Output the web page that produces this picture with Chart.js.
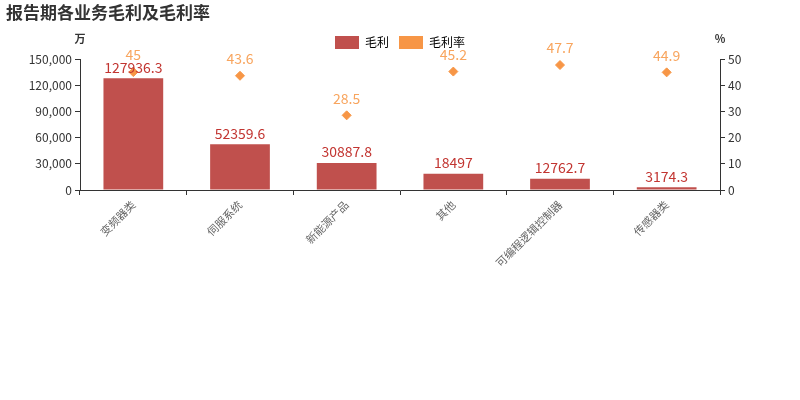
<!DOCTYPE html>
<html><head><meta charset="utf-8">
<script src="https://cdn.jsdelivr.net/npm/chart.js@4"></script>
<style>body{margin:0;background:#fff}#wrap{width:800px;height:400px}</style>
</head><body><div id="wrap"><canvas id="c"></canvas></div>
<script>
const categories = ['变频器类','伺服系统','新能源产品','其他','可编程逻辑控制器','传感器类'];
const grossProfit = [127936.3, 52359.6, 30887.8, 18497, 12762.7, 3174.3];
const grossMargin = [45, 43.6, 28.5, 45.2, 47.7, 44.9];
const leftTicks = [0, 30000, 60000, 90000, 120000, 150000];
const rightTicks = [0, 10, 20, 30, 40, 50];

const FONT = "'Noto Sans CJK SC', 'DejaVu Sans', sans-serif";
Chart.defaults.font.family = FONT;
Chart.defaults.color = '#333';

const extras = {
  id: 'extras',
  afterDatasetsDraw(chart) {
    const ctx = chart.ctx;
    ctx.save();
    ctx.fillStyle = '#333';
    ctx.font = 'bold 17px ' + FONT;
    ctx.textBaseline = 'middle';
    ctx.textAlign = 'left';
    ctx.fillText('报告期各业务毛利及毛利率', 6, 13);
    ctx.font = 'bold 11px ' + FONT;
    ctx.textAlign = 'center';
    ctx.fillText('万', chart.chartArea.left, 39);
    ctx.fillText('%', chart.chartArea.right, 39);
    ctx.font = '14px ' + FONT;
    ctx.textBaseline = 'bottom';
    chart.getDatasetMeta(0).data.forEach((el, i) => {
      ctx.fillStyle = '#c23531';
      ctx.fillText(String(grossProfit[i]), el.x, el.y - 4);
    });
    chart.getDatasetMeta(1).data.forEach((el, i) => {
      ctx.fillStyle = '#f8a55e';
      ctx.fillText(String(grossMargin[i]), el.x, el.y - 10);
    });
    ctx.restore();
  }
};

new Chart(document.getElementById('c'), {
  data: {
    labels: categories,
    datasets: [
      { type: 'bar', label: '毛利', data: grossProfit, yAxisID: 'y', backgroundColor: '#c0504d', barPercentage: 0.56, categoryPercentage: 1, order: 2 },
      { type: 'line', label: '毛利率', data: grossMargin, yAxisID: 'y1', showLine: false, pointStyle: 'rectRot', pointRadius: 4.5, backgroundColor: '#f79646', borderColor: '#f79646', order: 1 }
    ]
  },
  options: {
    responsive: true,
    maintainAspectRatio: false,
    animation: false,
    layout: { padding: { top: 0, right: 0, left: 0, bottom: 0 } },
    plugins: {
      legend: {
        position: 'top',
        labels: { usePointStyle: false, boxWidth: 24, boxHeight: 13, font: { size: 12 }, color: '#333', padding: 10,
          generateLabels: chart => [
            { text: '毛利', fillStyle: '#c0504d', strokeStyle: '#c0504d', lineWidth: 0, pointStyle: 'rect', datasetIndex: 0 },
            { text: '毛利率', fillStyle: '#f79646', strokeStyle: '#f79646', lineWidth: 0, pointStyle: 'rectRot', datasetIndex: 1 }
          ]
        }
      },
      tooltip: { enabled: false }
    },
    scales: {
      x: {
        offset: true,
        grid: { offset: true, drawOnChartArea: false, tickLength: 5, color: '#333' },
        border: { color: '#333' },
        ticks: { maxRotation: 45, minRotation: 45, color: '#666', font: { size: 11 } },
        afterFit: s => { s.height = 210; }
      },
      y: {
        position: 'left', min: 0, max: 150000,
        afterBuildTicks: s => { s.ticks = leftTicks.map(v => ({ value: v })); },
        ticks: { color: '#333', font: { size: 12 }, callback: v => v.toLocaleString('en-US') },
        grid: { drawOnChartArea: false, tickLength: 5, color: '#333' },
        border: { color: '#333' },
        afterFit: s => { s.width = 80; }
      },
      y1: {
        position: 'right', min: 0, max: 50,
        afterBuildTicks: s => { s.ticks = rightTicks.map(v => ({ value: v })); },
        ticks: { color: '#333', font: { size: 12 } },
        grid: { drawOnChartArea: false, tickLength: 5, color: '#333' },
        border: { color: '#333' },
        afterFit: s => { s.width = 80; }
      }
    }
  },
  plugins: [extras, {
    id: 'topPad',
    beforeLayout(chart) { chart.options.layout.padding.top = 26; }
  }]
});
</script></body></html>
